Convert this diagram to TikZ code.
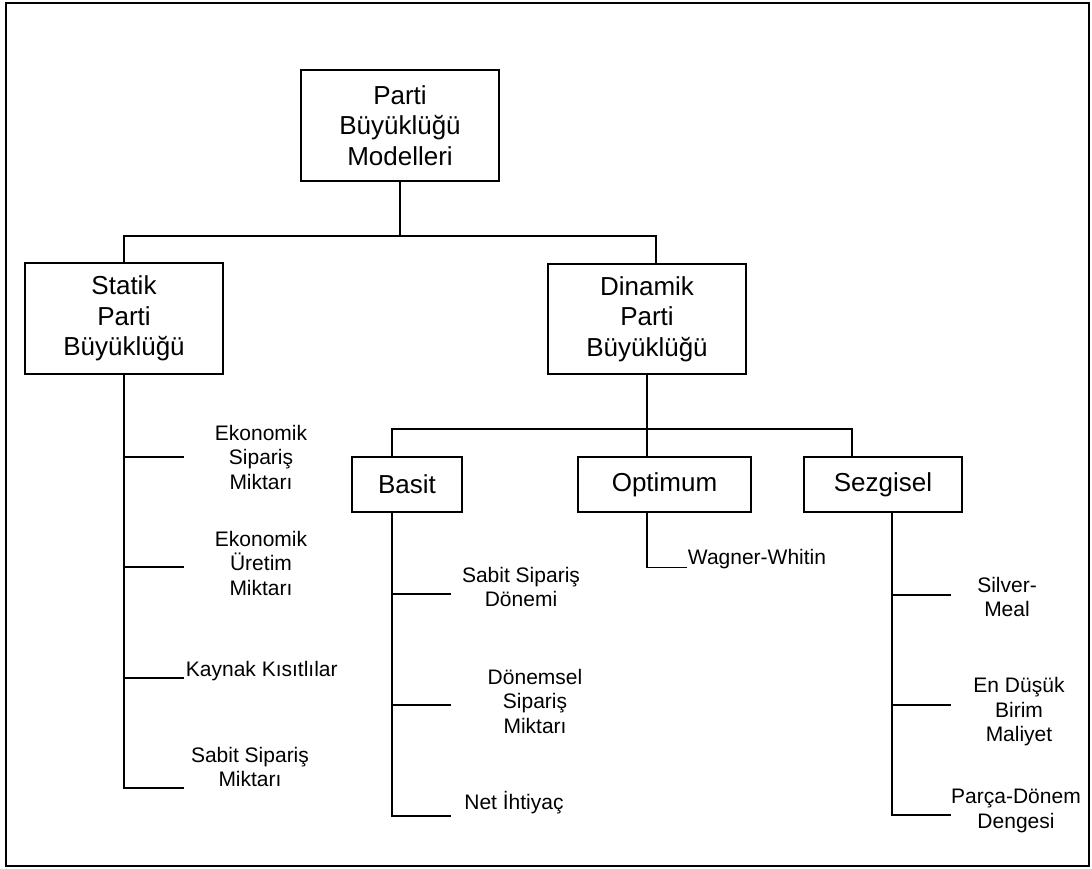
\documentclass[tikz,border=0pt]{standalone}
\usepackage{fontspec}
\setmainfont{Liberation Sans}
\begin{document}
\begin{tikzpicture}[x=1pt,y=-1pt,
  line width=1.9pt,
  boxbig/.style={draw, inner sep=0pt, align=center,
    font=\fontsize{26}{30.5}\selectfont},
  boxsmall/.style={draw, inner sep=0pt, align=center,
    font=\fontsize{26}{30}\selectfont, minimum height=55pt},
  leaf/.style={inner sep=0pt, align=center,
    font=\fontsize{21}{24.5}\selectfont},
  link/.style={draw, line width=1.9pt}]
\useasboundingbox (0,0) rectangle (1092,868);
\draw[line width=1.9pt] (6,3) rectangle (1089,866);

% main boxes
\node[boxbig, minimum width=198pt, minimum height=111pt] (root) at (400,125.5) {Parti\\Büyüklüğü\\Modelleri};
\node[boxbig, minimum width=198pt, minimum height=111pt] (statik) at (124,318.5) {Statik\\Parti\\Büyüklüğü};
\node[boxbig, minimum width=198pt, minimum height=110pt] (dinamik) at (647,319) {Dinamik\\Parti\\Büyüklüğü};
\node[boxsmall, minimum width=110pt] (basit) at (407,484.5) {Basit};
\node[boxsmall, minimum width=173pt] (optimum) at (664.5,484.5) {Optimum};
\node[boxsmall, minimum width=158pt] (sezgisel) at (883,484.5) {Sezgisel};

% junctions
\coordinate (j1) at (400,236);
\coordinate (j2) at (647,429);
\draw[link] (root.south) -- (j1);
\draw[link] (j1) -| (statik.north);
\draw[link] (j1) -| ([xshift=9pt]dinamik.north);
\draw[link] (dinamik.south) -- (j2);
\draw[link] (j2) -| ([xshift=-15pt]basit.north);
\draw[link] (j2) -- (j2 |- optimum.north);
\draw[link] (j2) -| ([xshift=-31pt]sezgisel.north);

% static lot sizing leaves
\coordinate (sb1) at (184,457);
\coordinate (sb2) at (184,567);
\coordinate (sb3) at (184,678);
\coordinate (sb4) at (184,788);
\draw[link] (statik.south) |- (sb4);
\draw[link] (statik.south |- sb1) -- (sb1);
\draw[link] (statik.south |- sb2) -- (sb2);
\draw[link] (statik.south |- sb3) -- (sb3);
\node[leaf] (s1) at (261,457) {Ekonomik\\Sipariş\\Miktarı};
\node[leaf] (s2) at (261,563) {Ekonomik\\Üretim\\Miktarı};
\node[leaf, anchor=base west] (s3) at (185,676) {Kaynak Kısıtlılar};
\node[leaf] (s4) at (250,767) {Sabit Sipariş\\Miktarı};

% simple methods
\coordinate (bb1) at (451,594);
\coordinate (bb2) at (451,705);
\coordinate (bb3) at (451,816);
\coordinate (btop) at (392,512);
\draw[link] (btop) |- (bb3);
\draw[link] (btop |- bb1) -- (bb1);
\draw[link] (btop |- bb2) -- (bb2);
\node[leaf] (b1) at (521,587) {Sabit Sipariş\\Dönemi};
\node[leaf] (b2) at (535,701) {Dönemsel\\Sipariş\\Miktarı};
\node[leaf, anchor=base] (b3) at (514,809) {Net İhtiyaç};

% optimum method
\node[leaf, anchor=base west] (o1) at (687,564) {Wagner-Whitin};
\coordinate (otop) at (647,512);
\draw[link] (otop) |- (o1.base west |- 0,567.5);

% heuristic methods
\coordinate (hb1) at (951,595);
\coordinate (hb2) at (951,705);
\coordinate (hb3) at (951,815);
\coordinate (htop) at (892,512);
\draw[link] (htop) |- (hb3);
\draw[link] (htop |- hb1) -- (hb1);
\draw[link] (htop |- hb2) -- (hb2);
\node[leaf] (h1) at (1007,597) {Silver-\\Meal};
\node[leaf] (h2) at (1019,712) {En Düşük\\Birim\\Maliyet};
\node[leaf] (h3) at (1016,811) {Parça-Dönem\\Dengesi};
\end{tikzpicture}
\end{document}
